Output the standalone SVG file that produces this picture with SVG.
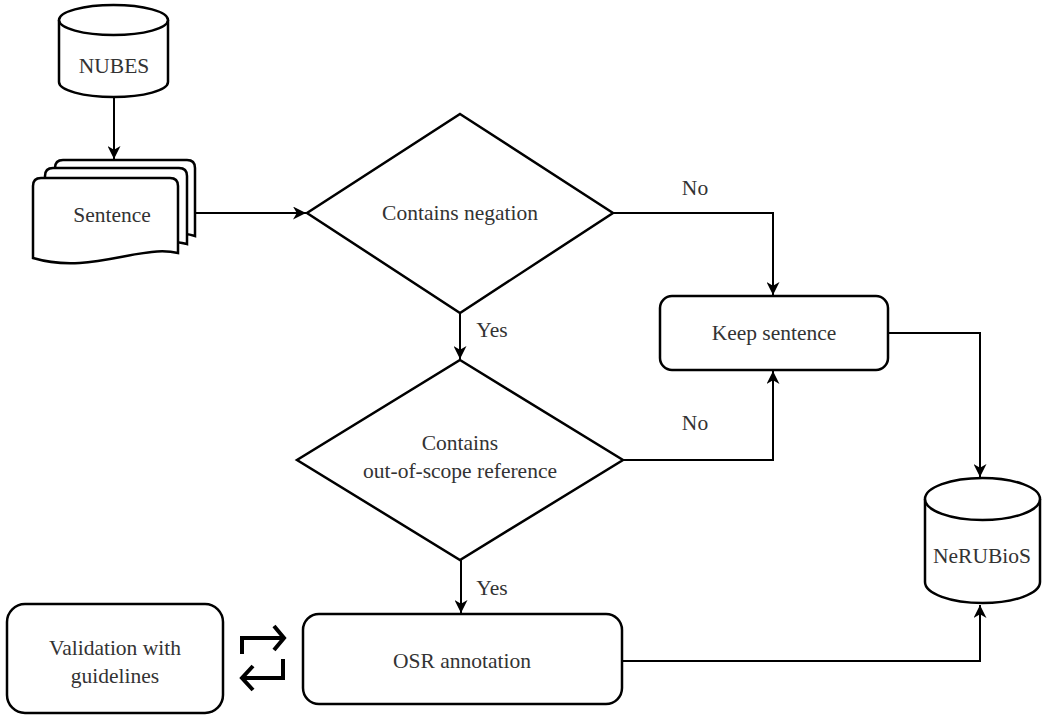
<svg xmlns="http://www.w3.org/2000/svg" width="1043" height="716" viewBox="0 0 1043 716">
<style>
.s{fill:#fff;stroke:#000;stroke-width:2.5}
.c{fill:none;stroke:#000;stroke-width:2}
.t{font-family:'Liberation Serif','Times New Roman',serif;font-size:21.5px;fill:#333;text-anchor:middle;dominant-baseline:central}
.ic{fill:none;stroke:#000;stroke-width:4;stroke-linejoin:miter}
</style>
<defs>
<marker id="a" viewBox="0 0 12 12" refX="12" refY="6" markerWidth="13" markerHeight="13" markerUnits="userSpaceOnUse" orient="auto">
<path d="M0,0 L12,6 L0,12 L3.5,6 Z" fill="#000"/>
</marker>
</defs>
<rect width="1043" height="716" fill="#fff"/>
<g id="connectors">
<path class="c" d="M114,97 V159" marker-end="url(#a)"/>
<path class="c" d="M195,213 H306" marker-end="url(#a)"/>
<path class="c" d="M613,213 H773 V295" marker-end="url(#a)"/>
<path class="c" d="M460,313 V359" marker-end="url(#a)"/>
<path class="c" d="M623,460 H773 V371" marker-end="url(#a)"/>
<path class="c" d="M461,560 V613" marker-end="url(#a)"/>
<path class="c" d="M888,333 H980 V477" marker-end="url(#a)"/>
<path class="c" d="M622,661 H980 V605" marker-end="url(#a)"/>
<text class="t" x="695" y="188">No</text>
<text class="t" x="492" y="330">Yes</text>
<text class="t" x="695" y="423">No</text>
<text class="t" x="492" y="588">Yes</text>
</g>
<g id="nubes">
<path class="s" d="M59,20 V82 A54.5,15 0 0 0 168,82 V20"/>
<ellipse class="s" cx="113.5" cy="20" rx="54.5" ry="15"/>
<text class="t" x="114" y="66">NUBES</text>
</g>
<g id="sentence">
<path class="s" d="M63,160 H187 Q195,160 195,168 V236 C160,226 120,246 55,234 V168 Q55,160 63,160 Z"/>
<path class="s" d="M53,168 H179 Q187,168 187,176 V244 C150,234 110,258 45,242 V176 Q45,168 53,168 Z"/>
<path class="s" d="M41,178 H170 Q178,178 178,186 V253 C140,244 90,275 33,258 V186 Q33,178 41,178 Z"/>
<text class="t" x="112" y="215">Sentence</text>
</g>
<g id="negation">
<polygon class="s" points="460,114 613,213 460,313 307,213"/>
<text class="t" x="460" y="213">Contains negation</text>
</g>
<g id="keep">
<rect class="s" x="660" y="296" width="228" height="74" rx="12"/>
<text class="t" x="774" y="333">Keep sentence</text>
</g>
<g id="oos">
<polygon class="s" points="460,360 623,460 460,560 297,460"/>
<text class="t" x="460" y="443">Contains</text>
<text class="t" x="460" y="471">out-of-scope reference</text>
</g>
<g id="osr">
<rect class="s" x="303" y="614" width="319" height="90" rx="16"/>
<text class="t" x="462" y="661">OSR annotation</text>
</g>
<g id="validation">
<rect class="s" x="7" y="604" width="216" height="109" rx="18"/>
<text class="t" x="115" y="648">Validation with</text>
<text class="t" x="115" y="676">guidelines</text>
</g>
<g id="swap">
<path class="ic" d="M242,654 V638 H284"/>
<path class="ic" d="M274,626 L284,638 L274,650"/>
<path class="ic" d="M283,659 V678 H242"/>
<path class="ic" d="M253,666 L242,678 L253,690"/>
</g>
<g id="nerubios">
<path class="s" d="M925,499 V582 A57.5,21 0 0 0 1040,582 V499"/>
<ellipse class="s" cx="982.5" cy="499" rx="57.5" ry="21"/>
<text class="t" x="982" y="556">NeRUBioS</text>
</g>
</svg>
